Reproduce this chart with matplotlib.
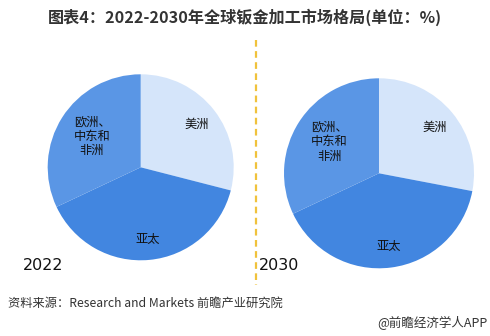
import numpy as np
import matplotlib
matplotlib.use('Agg')
import matplotlib.pyplot as plt
from matplotlib.lines import Line2D

plt.rcParams['font.family'] = ['Noto Sans CJK SC', 'DejaVu Sans']

# data (shares in %)
regions = ['美洲', '亚太', '欧洲、\n中东和\n非洲']
share_2022 = [29, 39, 32]
share_2030 = [28, 40, 32]
years = ['2022', '2030']
colors = ['#d5e5fa', '#4286e0', '#5a96e5']

W, H = 490, 336
fig = plt.figure(figsize=(W / 100, H / 100), dpi=100)
fig.patch.set_facecolor('white')

def pie_axes(cx, cy, r):
    # pixel centre (from top) and radius -> axes box
    return fig.add_axes([(cx - r) / W, (H - cy - r) / H, 2 * r / W, 2 * r / H])

label_r = [0.76, 0.78, 0.62]
for vals, (cx, cy, r) in zip([share_2022, share_2030], [(140.7, 167.3, 93), (379, 173.3, 95)]):
    ax = pie_axes(cx, cy, r)
    wedges, _ = ax.pie(vals, colors=colors, startangle=90, counterclock=False,
                       wedgeprops=dict(linewidth=0))
    ax.set_xlim(-1, 1)
    ax.set_ylim(-1, 1)
    ax.set_aspect('auto')
    for w, lab, lr in zip(wedges, regions, label_r):
        ang = np.deg2rad((w.theta1 + w.theta2) / 2)
        ax.text(lr * np.cos(ang), lr * np.sin(ang), lab, ha='center', va='center',
                fontsize=8.8, color='#111111', linespacing=1.15)

fig.text(23 / W, 1 - 265 / H, years[0], fontsize=11.5, color='#111111', va='center', ha='left',
         family='DejaVu Sans')
fig.text(259 / W, 1 - 265 / H, years[1], fontsize=11.5, color='#111111', va='center', ha='left',
         family='DejaVu Sans')

# dashed separator
fig.add_artist(Line2D([256 / W, 256 / W], [1 - 40 / H, 1 - 285 / H], color='#f0c23c',
                      linestyle=(0, (3, 2)), linewidth=1.6))

fig.text(0.5, 1 - 17 / H, '图表4：2022-2030年全球钣金加工市场格局(单位：%)', ha='center', va='center',
         fontsize=11.6, fontweight='bold', color='#333333')
fig.text(8 / W, 1 - 303 / H, '资料来源：Research and Markets 前瞻产业研究院', ha='left', va='center',
         fontsize=8.8, color='#333333')
fig.text(487 / W, 1 - 323 / H, '@前瞻经济学人APP', ha='right', va='center',
         fontsize=9, color='#333333')

fig.savefig('out.png', dpi=100)
